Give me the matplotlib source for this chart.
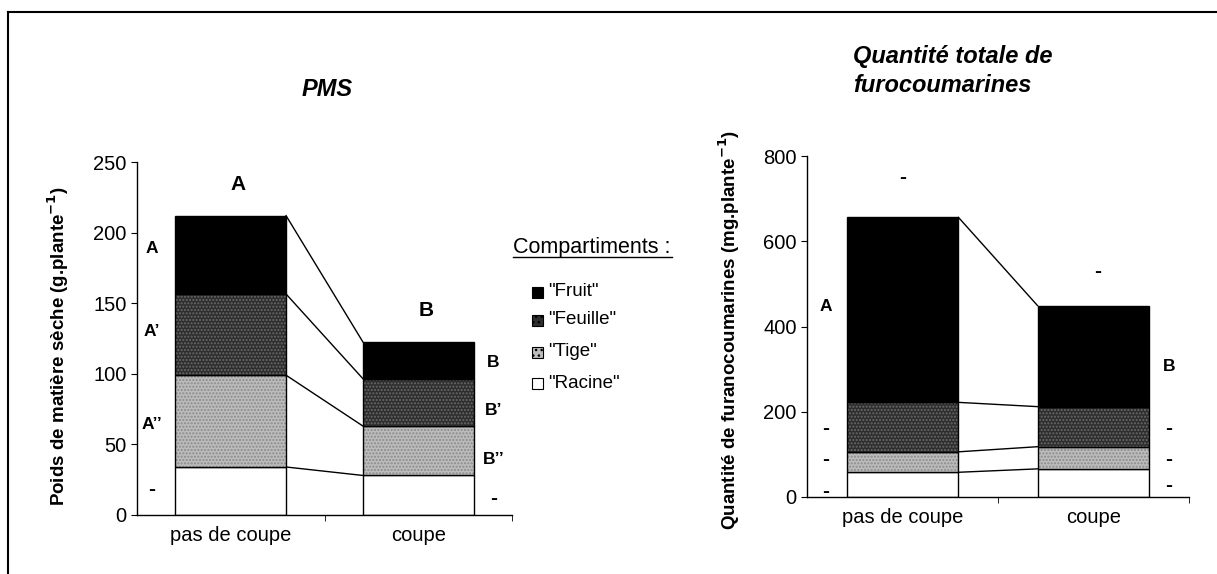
import numpy as np
import matplotlib.pyplot as plt
from matplotlib.lines import Line2D
from matplotlib.patches import Rectangle
from matplotlib.colors import to_rgba

plt.rcParams['font.family'] = ['Liberation Sans', 'DejaVu Sans']

# Treatments and plant compartments (bottom to top)
categories = ['pas de coupe', 'coupe']
compartments = ['"Racine"', '"Tige"', '"Feuille"', '"Fruit"']

# Dry matter weight per plant (g)
pms_racine = [34, 28]
pms_tige = [65, 35]
pms_feuille = [57.5, 33.5]
pms_fruit = [55.5, 26]

# Total furocoumarin amount per plant (mg)
fc_racine = [58, 66]
fc_tige = [48, 52]
fc_feuille = [116, 94]
fc_fruit = [434, 237]

# Statistical group letters
pms_total_letters = ['A', 'B']
pms_left_letters = ['-', 'A\u2019\u2019', 'A\u2019', 'A']
pms_right_letters = ['-', 'B\u2019\u2019', 'B\u2019', 'B']
fc_total_letters = ['-', '-']
fc_left_letters = ['-', '-', '-', 'A']
fc_right_letters = ['-', '-', '-', 'B']

colors = ['white', '#bcbcbc', '#2e2e2e', 'black']
hatches = [None, '.....', '.....', None]
hatch_cols = [None, '#8a8a8a', '#6a6a6a', None]

W, H = 1217, 574
fig = plt.figure(figsize=(W / 100, H / 100), dpi=100)


def px_axes(x0, y_top, x1, y_bot):
    return fig.add_axes([x0 / W, 1 - y_bot / H, (x1 - x0) / W, (y_bot - y_top) / H])


def letter(ax, x, y, s):
    # dashes are drawn a bit larger so they read as short thick bars
    size = 15 if s == '-' else 12.5
    ax.text(x, y, s, ha='center', va='center', fontsize=size, fontweight='bold')


def stacked(ax, layers, width):
    x = np.arange(len(categories))
    bottom = np.zeros(len(categories))
    tops = []
    for vals, c, h, hc in zip(layers, colors, hatches, hatch_cols):
        vals = np.array(vals, dtype=float)
        bars = ax.bar(x, vals, width, bottom=bottom, color=c, edgecolor='black',
                      linewidth=1.0, zorder=2)
        if h:
            for b in bars:
                b.set_hatch(h)
                b._hatch_color = to_rgba(hc)
        bottom = bottom + vals
        tops.append(bottom.copy())
    # connecting lines between the tops of each layer
    for t in tops:
        ax.plot([x[0] + width / 2, x[1] - width / 2], [t[0], t[1]],
                color='black', lw=1.0, zorder=1)
    ax.set_xlim(-0.5, 1.5)
    ax.set_xticks(x)
    ax.set_xticklabels(categories, fontsize=14.5)
    ax.set_xticks([0.5, 1.5], minor=True)
    ax.tick_params(axis='x', which='major', length=0, pad=8)
    ax.tick_params(axis='x', which='minor', length=4, direction='out')
    ax.tick_params(axis='y', length=4, direction='out', labelsize=14.5)
    for s in ['top', 'right']:
        ax.spines[s].set_visible(False)
    for s in ['left', 'bottom']:
        ax.spines[s].set_linewidth(1.0)
    return tops


# Left panel: PMS
ax1 = px_axes(137, 162, 512, 515)
tops1 = stacked(ax1, [pms_racine, pms_tige, pms_feuille, pms_fruit], 0.59)
ax1.set_ylim(0, 250)
ax1.set_yticks(range(0, 251, 50))
ax1.set_ylabel('Poids de matière sèche (g.plante$^{\\mathbf{-1}}$)',
               fontsize=13.5, fontweight='bold')
ax1.yaxis.set_label_coords(-0.176, 0.48)

for i, t in enumerate(pms_total_letters):
    ax1.text(i + 0.04, tops1[-1][i] + 22, t, ha='center', va='center',
             fontsize=15, fontweight='bold')
pms_label_y_left = [18, 64, 130, 189]
pms_label_y_right = [12, 39, 74, 108]
for lab, yv in zip(pms_left_letters, pms_label_y_left):
    letter(ax1, -0.42, yv, lab)
for lab, yv in zip(pms_right_letters, pms_label_y_right):
    letter(ax1, 1.40, yv, lab)

fig.text(327 / W, 1 - 90 / H, 'PMS', ha='center', va='center',
         fontsize=17, fontweight='bold', fontstyle='italic')

# Right panel: furocoumarins
ax2 = px_axes(807, 156, 1189, 497)
tops2 = stacked(ax2, [fc_racine, fc_tige, fc_feuille, fc_fruit], 0.586)
ax2.set_ylim(0, 800)
ax2.set_yticks(range(0, 801, 200))
ax2.set_ylabel('Quantité de furanocoumarines (mg.plante$^{\\mathbf{-1}}$)',
               fontsize=13.5, fontweight='bold')
ax2.yaxis.set_label_coords(-0.170, 0.49)

fc_top_y = [749, 528]
for i, (t, yv) in enumerate(zip(fc_total_letters, fc_top_y)):
    letter(ax2, i + 0.02 * i, yv, t)
fc_label_y_left = [12, 87, 160, 448]
fc_label_y_right = [28, 87, 160, 305]
for lab, yv in zip(fc_left_letters, fc_label_y_left):
    letter(ax2, -0.40, yv, lab)
for lab, yv in zip(fc_right_letters, fc_label_y_right):
    letter(ax2, 1.395, yv, lab)

fig.text(853 / W, 1 - 57 / H, 'Quantité totale de', ha='left', va='center',
         fontsize=17, fontweight='bold', fontstyle='italic')
fig.text(853 / W, 1 - 85 / H, 'furocoumarines', ha='left', va='center',
         fontsize=17, fontweight='bold', fontstyle='italic')

# Legend
fig.text(513 / W, 1 - 247 / H, 'Compartiments :', ha='left', va='center',
         fontsize=15.5)
fig.add_artist(Line2D([513 / W, 672 / W], [1 - 257 / H, 1 - 257 / H],
                      color='black', lw=1.0))
leg_rows = [292, 320, 352, 383]
for name, yp, c, h in zip(compartments[::-1], leg_rows, colors[::-1], hatches[::-1]):
    sq = Rectangle((532 / W, 1 - (yp + 6) / H), 11 / W, 11 / H,
                   transform=fig.transFigure, facecolor=c, edgecolor='black', lw=0.8)
    if h:
        sq.set_hatch('...')
    fig.add_artist(sq)
    fig.text(548 / W, 1 - yp / H, name, ha='left', va='center', fontsize=13.5)

# Outer frame (top and left edges)
fig.add_artist(Line2D([8 / W, 1], [1 - 12 / H, 1 - 12 / H], color='black', lw=1.5))
fig.add_artist(Line2D([8 / W, 8 / W], [0, 1 - 12 / H], color='black', lw=1.5))

fig.savefig('out.png', dpi=100)
